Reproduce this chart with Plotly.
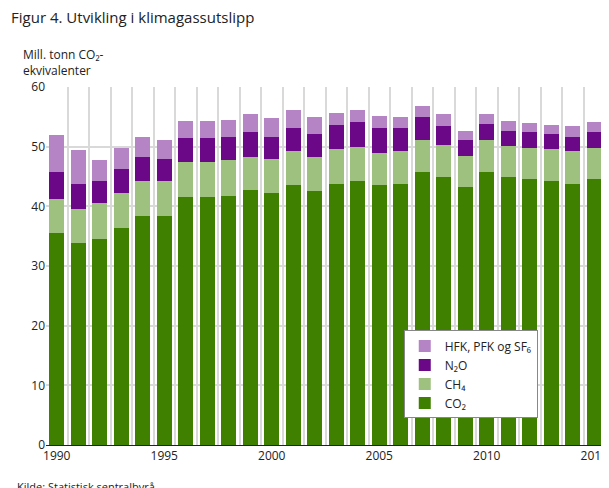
import plotly.graph_objects as go

years = list(range(1990, 2016))
# stacked tops
top_co2 = [35.6, 33.9, 34.6, 36.4, 38.3, 38.3, 41.5, 41.5, 41.8, 42.7, 42.2, 43.5, 42.5,
           43.8, 44.2, 43.5, 43.8, 45.7, 44.9, 43.2, 45.7, 44.9, 44.5, 44.2, 43.8, 44.5]
top_ch4 = [41.3, 39.6, 40.5, 42.3, 44.3, 44.2, 47.5, 47.5, 47.7, 48.2, 47.9, 49.2, 48.2,
           49.6, 49.9, 48.9, 49.2, 51.2, 50.2, 48.5, 51.2, 50.1, 49.7, 49.6, 49.2, 49.7]
top_n2o = [45.7, 43.8, 44.2, 46.2, 48.2, 48.0, 51.4, 51.4, 51.6, 52.4, 51.7, 53.1, 52.2,
           53.6, 54.1, 53.2, 53.1, 54.9, 53.4, 51.2, 53.8, 52.7, 52.4, 52.1, 51.7, 52.4]
top_hfk = [51.9, 49.4, 47.7, 49.7, 51.6, 51.2, 54.3, 54.3, 54.4, 55.4, 54.8, 56.1, 54.9,
           55.6, 56.1, 55.2, 54.9, 56.9, 55.4, 52.7, 55.4, 54.3, 53.9, 53.6, 53.4, 54.1]

co2 = top_co2
ch4 = [round(a - b, 2) for a, b in zip(top_ch4, top_co2)]
n2o = [round(a - b, 2) for a, b in zip(top_n2o, top_ch4)]
hfk = [round(a - b, 2) for a, b in zip(top_hfk, top_n2o)]

series = [
    ("CO₂", co2, "#408000"),
    ("CH₄", ch4, "#9fc17f"),
    ("N₂O", n2o, "#6a0888"),
    ("HFK, PFK og SF₆", hfk, "#b584c4"),
]

fig = go.Figure()
for name, vals, color in series:
    fig.add_trace(go.Bar(x=years, y=vals, name=name, marker_color=color,
                         marker_line_width=0))

fig.update_layout(
    barmode="stack",
    bargap=0.3,
    width=609, height=488,
    template="simple_white",
    font=dict(family="Open Sans", size=12, color="#222"),
    margin=dict(l=38, r=12, t=79, b=51, autoexpand=False),
    title=dict(text="Figur 4. Utvikling i klimagassutslipp", x=0.005, xref="container",
               y=0.99, yref="container", xanchor="left", yanchor="top",
               font=dict(size=15)),
    legend=dict(x=0.64, y=0.32, xanchor="left", yanchor="top",
                bordercolor="#888", borderwidth=1, bgcolor="white",
                traceorder="reversed", font=dict(size=12)),
    showlegend=True,
)
fig.update_xaxes(
    tickvals=list(range(1990, 2016, 5)), ticks="", showgrid=False,
    range=[1989.5, 2015.5], showline=True, linecolor="#222",
    minor=dict(tickvals=[y + 0.5 for y in range(1989, 2016)], showgrid=True,
               gridcolor="#d9d9d9", gridwidth=1.5, ticks=""),
)
fig.update_yaxes(
    range=[0, 60], dtick=10, showgrid=True, gridcolor="#d9d9d9", gridwidth=1.5,
    showline=False, ticks="",
)
fig.add_annotation(text="Mill. tonn CO₂-<br>ekvivalenter", xref="paper", yref="paper",
                   x=-0.045, y=1.12, xanchor="left", yanchor="top", align="left",
                   showarrow=False, font=dict(size=12))
fig.add_annotation(text="Kilde: Statistisk sentralbyrå.", xref="paper", yref="paper",
                   x=-0.055, y=-0.115, xanchor="left", yanchor="middle",
                   showarrow=False, font=dict(size=11))

fig.write_html("out.html")
